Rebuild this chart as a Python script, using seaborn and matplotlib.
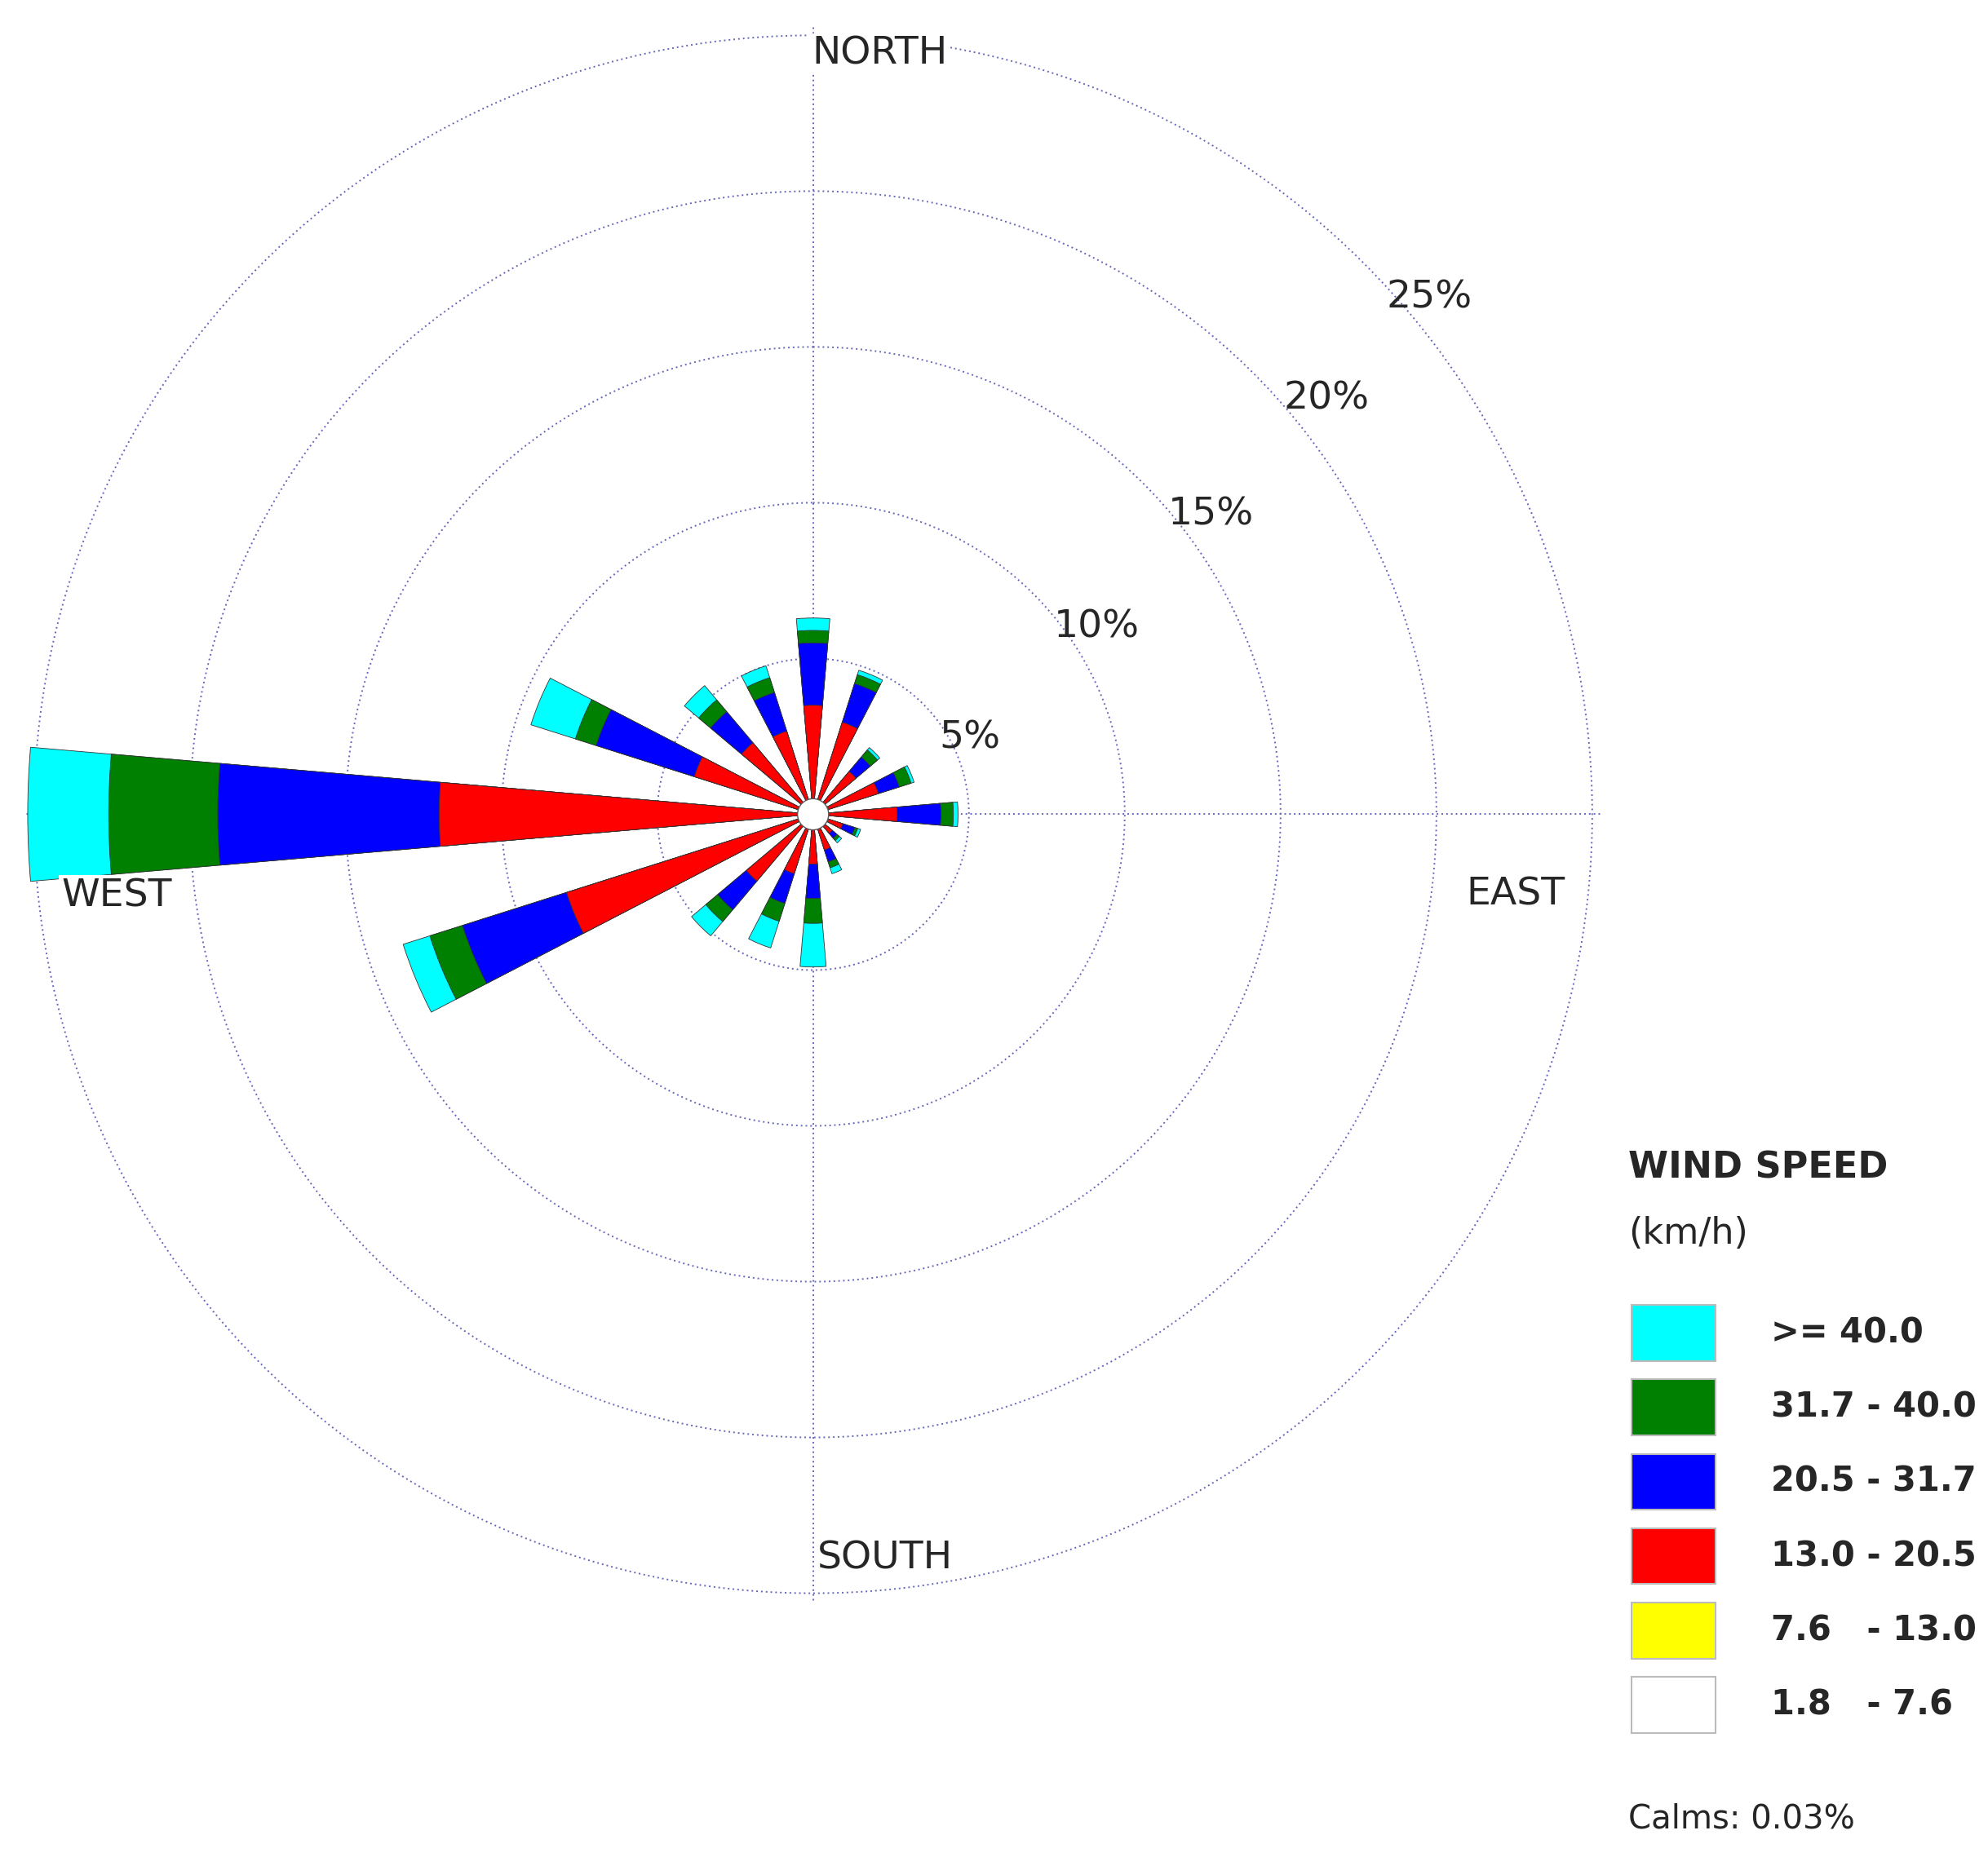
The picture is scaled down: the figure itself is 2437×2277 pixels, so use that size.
import numpy as np
import matplotlib
matplotlib.use("Agg")
import matplotlib.pyplot as plt
import seaborn as sns
from matplotlib.patches import Rectangle, Circle

sns.set_style("white")
plt.rcParams['font.family'] = ['DejaVu Sans']

directions = ["N","NNE","NE","ENE","E","ESE","SE","SSE","S","SSW","SW","WSW","W","WNW","NW","NNW"]
# cumulative percentages for each speed class (outer edge)
cum_red   = [3.5, 3.1, 1.8, 2.2, 2.7, 1.0, 0.8, 1.2, 1.6, 2.0, 2.8, 8.3, 12.0, 4.0, 3.0, 2.8]
cum_blue  = [5.5, 4.4, 2.4, 2.9, 4.1, 1.4, 1.0, 1.6, 2.7, 3.0, 4.0, 11.8, 19.1, 7.3, 4.3, 4.1]
cum_green = [5.9, 4.7, 2.7, 3.3, 4.5, 1.5, 1.1, 1.8, 3.5, 3.6, 4.5, 12.9, 22.6, 8.0, 4.8, 4.6]
cum_cyan  = [6.3, 4.85, 2.8, 3.4, 4.65, 1.6, 1.2, 2.0, 4.9, 4.5, 5.1, 13.8, 25.2, 9.5, 5.4, 5.0]
legend_labels = [">= 40.0", "31.7 - 40.0", "20.5 - 31.7", "13.0 - 20.5", "7.6   - 13.0", "1.8   - 7.6"]
legend_colors = ["#00FFFF", "#008000", "#0000FF", "#FF0000", "#FFFF00", "#FFFFFF"]
ring_vals = [5, 10, 15, 20, 25]

fig = plt.figure(figsize=(24.37, 22.77), dpi=100)
ax = fig.add_axes([0.0115, 0.137, 0.795, 0.849], projection='polar')
ax.set_theta_zero_location('N')
ax.set_theta_direction(-1)
theta = np.deg2rad(np.arange(16) * 22.5)
width = np.deg2rad(9.8)

layers = [(cum_cyan, "#00FFFF"), (cum_green, "#008000"), (cum_blue, "#0000FF"), (cum_red, "#FF0000")]
for vals, col in layers:
    ax.bar(theta, vals, width=width, color=col, edgecolor='#333333', linewidth=0.6, zorder=3)

rmax = 25.3
ax.set_ylim(0, rmax)
ax.grid(False)
ax.spines['polar'].set_visible(False)
ax.set_xticks([]); ax.set_yticks([])
tt = np.linspace(0, 2*np.pi, 400)
gc = '#6666bb'
for r in ring_vals:
    ax.plot(tt, np.full_like(tt, r), color=gc, lw=1.4, ls=(0, (1, 2)), zorder=1)
for a in [0, 90, 180, 270]:
    ax.plot([np.deg2rad(a)]*2, [0, rmax], color=gc, lw=1.4, ls=(0, (1, 2)), zorder=1)
ax.add_patch(Circle((0, 0), 0.5, transform=ax.transData._b, color='white', ec='#555555', lw=1, zorder=5))

fs = 34
pct_pos = [(64, 5.6), (56.5, 10.9), (53, 16.0), (51, 21.2), (50, 25.8)]
for r, (ang, rr) in zip(ring_vals, pct_pos):
    ax.text(np.deg2rad(ang), rr, f"{r}%", fontsize=fs, ha='center', va='center', zorder=6)
ax.text(np.deg2rad(5.0), 24.5, "NORTH", fontsize=fs, ha='center', va='center',
        bbox=dict(fc='white', ec='none', pad=2), zorder=6)
ax.text(np.deg2rad(174.5), 24.0, "SOUTH", fontsize=fs, ha='center', va='center',
        bbox=dict(fc='white', ec='none', pad=2), zorder=6)
ax.text(np.deg2rad(96.5), 22.7, "EAST", fontsize=fs, ha='center', va='center',
        bbox=dict(fc='white', ec='none', pad=2), zorder=6)
ax.text(np.deg2rad(263.3), 22.5, "WEST", fontsize=fs, ha='center', va='center',
        bbox=dict(fc='white', ec='none', pad=2), zorder=6)

W, H = 1560, 1460
def fx(x): return x / W
def fy(y): return 1 - y / H
fig.text(fx(1278), fy(918), "WIND SPEED", fontsize=32, fontweight='bold', va='center', ha='left')
fig.text(fx(1278), fy(970), "(km/h)", fontsize=32, va='center', ha='left')
for i, (lab, col) in enumerate(zip(legend_labels, legend_colors)):
    yc = 1048 + i * 58.5
    fig.patches.append(Rectangle((fx(1280), fy(yc + 22)), fx(66), 44 / H, transform=fig.transFigure,
                                 fc=col, ec='#bbbbbb', lw=1.5))
    fig.text(fx(1390), fy(yc), lab, fontsize=30, fontweight='bold', va='center', ha='left')
fig.text(fx(1278), fy(1430), "Calms: 0.03%", fontsize=29, va='center', ha='left')

fig.savefig("out.png", dpi=100, facecolor='white')
